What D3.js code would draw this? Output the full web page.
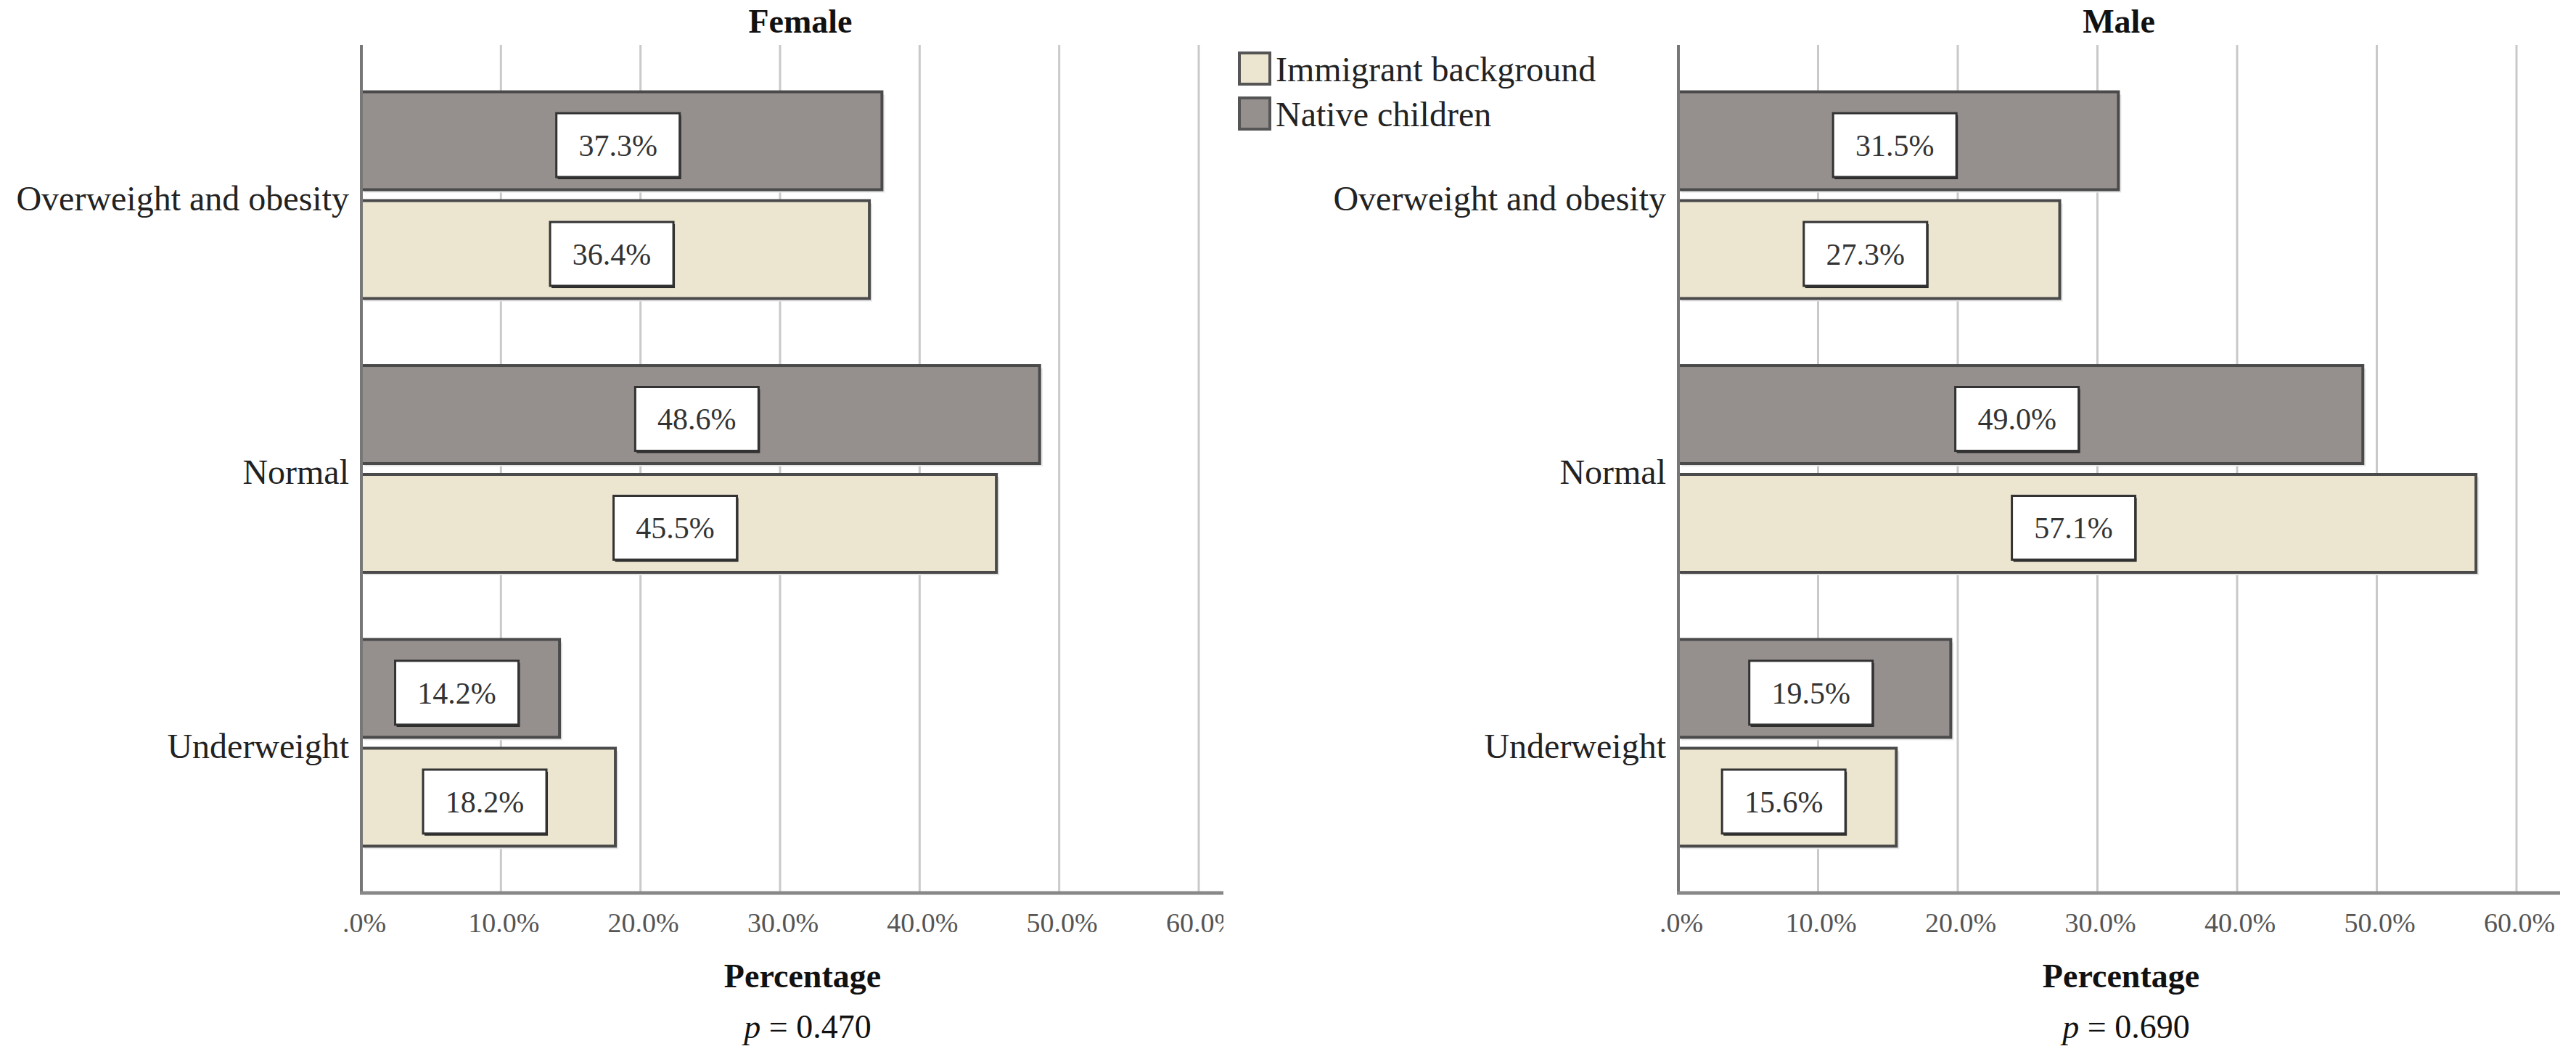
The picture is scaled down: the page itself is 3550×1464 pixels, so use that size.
<!DOCTYPE html>
<html>
<head>
<meta charset="utf-8">
<script src="https://cdn.jsdelivr.net/npm/d3@7"></script>
<style>
body { margin: 0px; background: #fff; }
text { font-family: "Liberation Serif", "Times New Roman", serif; }
</style>
</head>
<body>
<div id="app"></div>
<script>
const categories = ["Overweight and obesity", "Normal", "Underweight"]
const series = ["Native children", "Immigrant background"]
const legendOrder = ["Immigrant background", "Native children"]
const femaleNative = [37.3, 48.6, 14.2]
const femaleImmigrant = [36.4, 45.5, 18.2]
const maleNative = [31.5, 49.0, 19.5]
const maleImmigrant = [27.3, 57.1, 15.6]
const tickValues = [0, 10, 20, 30, 40, 50, 60]
const tickLabels = [".0%", "10.0%", "20.0%", "30.0%", "40.0%", "50.0%", "60.0%"]
const panelTitles = ["Female", "Male"]
const pValues = ["0.470", "0.690"]

const colors = { "Native children": "#958f8e", "Immigrant background": "#ece5d0" }

const W = 3550, H = 1464
const svg = d3.select("#app").append("svg").attr("width", W).attr("height", H)

const plotTop = 62, plotBottom = 1231

const y = d3.scaleBand().domain(categories).range([plotTop, plotBottom]).paddingInner(0.245).paddingOuter(0.171)
const ySub = d3.scaleBand().domain(series).range([0, y.bandwidth()]).paddingInner(0.1)

const panels = [
  { id: "f", title: panelTitles[0], p: pValues[0], native: femaleNative, immigrant: femaleImmigrant, x0: 498, x60: 1652, axisEnd: 1686, center: 1103 },
  { id: "m", title: panelTitles[1], p: pValues[1], native: maleNative, immigrant: maleImmigrant, x0: 2313, x60: 3468, axisEnd: 3528, center: 2920 }
]

panels.forEach(pn => {
  const g = svg.append("g")
  const x = d3.scaleLinear().domain([0, 60]).range([pn.x0, pn.x60])

  // clip at the panel's right edge (the female one is cut by the legend)
  svg.append("clipPath").attr("id", "clip-" + pn.id)
    .append("rect").attr("x", 0).attr("y", 0).attr("width", pn.axisEnd + (pn.id == "m" ? 30 : 0)).attr("height", H)

  // gridlines
  g.append("g").selectAll("line").data(tickValues.slice(1)).join("line")
    .attr("x1", d => x(d)).attr("x2", d => x(d))
    .attr("y1", plotTop).attr("y2", plotBottom)
    .attr("stroke", "#c9c9c9").attr("stroke-width", 3)

  // bars
  const rows = []
  categories.forEach((c, i) => {
    rows.push({ cat: c, s: "Native children", v: pn.native[i] })
    rows.push({ cat: c, s: "Immigrant background", v: pn.immigrant[i] })
  })

  const bars = g.append("g").selectAll("g").data(rows).join("g")
    .attr("transform", d => `translate(0,${y(d.cat) + ySub(d.s)})`)

  bars.append("rect")
    .attr("x", x(0) + 4).attr("y", 4)
    .attr("width", d => x(d.v) - x(0)).attr("height", ySub.bandwidth())
    .attr("fill", "#e6e6e6")
  bars.append("rect")
    .attr("x", x(0)).attr("y", 0)
    .attr("width", d => x(d.v) - x(0)).attr("height", ySub.bandwidth())
    .attr("fill", d => colors[d.s])
    .attr("stroke", "#4a4a4a").attr("stroke-width", 4)

  // value boxes
  const bw = 170, bh = 88
  const box = bars.append("g")
    .attr("transform", d => `translate(${(x(0) + x(d.v)) / 2 - bw / 2 - 5},${ySub.bandwidth() / 2 + 6 - bh / 2})`)
  box.append("rect").attr("x", 2).attr("y", 3).attr("width", bw).attr("height", bh).attr("fill", "#2a2a2a")
  box.append("rect").attr("width", bw).attr("height", bh)
    .attr("fill", "#fff").attr("stroke", "#333").attr("stroke-width", 3)
  box.append("text").attr("x", bw / 2).attr("y", bh / 2).attr("dy", "0.35em")
    .attr("text-anchor", "middle").attr("font-size", 42).attr("fill", "#333")
    .text(d => d.v.toFixed(1) + "%")

  // y axis line
  g.append("line").attr("x1", x(0)).attr("x2", x(0)).attr("y1", plotTop).attr("y2", plotBottom)
    .attr("stroke", "#777").attr("stroke-width", 4)
  // x axis line
  g.append("line").attr("x1", x(0) - 2).attr("x2", pn.axisEnd).attr("y1", plotBottom).attr("y2", plotBottom)
    .attr("stroke", "#888").attr("stroke-width", 5)

  // category labels
  g.append("g").selectAll("text").data(categories).join("text")
    .attr("x", x(0) - 17).attr("y", d => y(d) + y.bandwidth() / 2 + 4).attr("dy", "0.35em")
    .attr("text-anchor", "end").attr("font-size", 48).attr("fill", "#222")
    .text(d => d)

  // tick labels
  g.append("g").attr("clip-path", `url(#clip-${pn.id})`)
    .selectAll("text").data(tickValues).join("text")
    .attr("x", d => x(d) + 4).attr("y", 1285)
    .attr("text-anchor", "middle").attr("font-size", 38).attr("fill", "#555")
    .text((d, i) => tickLabels[i])

  // title
  g.append("text").attr("x", pn.center).attr("y", 45)
    .attr("text-anchor", "middle").attr("font-size", 46).attr("font-weight", "bold").attr("fill", "#111")
    .text(pn.title)

  // axis title
  g.append("text").attr("x", pn.center + 3).attr("y", 1361)
    .attr("text-anchor", "middle").attr("font-size", 46).attr("font-weight", "bold").attr("fill", "#111")
    .text("Percentage")

  const pt = g.append("text").attr("x", pn.center + 10).attr("y", 1431)
    .attr("text-anchor", "middle").attr("font-size", 46).attr("fill", "#111")
  pt.append("tspan").attr("font-style", "italic").text("p")
  pt.append("tspan").text(" = " + pn.p)
})

// legend
const legend = svg.append("g").attr("transform", "translate(1708,73)")
const items = legend.selectAll("g").data(legendOrder).join("g")
  .attr("transform", (d, i) => `translate(0,${i * 62})`)
items.append("rect").attr("width", 42).attr("height", 43)
  .attr("fill", d => colors[d]).attr("stroke", "#555").attr("stroke-width", 4)
items.append("text").attr("x", 50).attr("y", 22).attr("dy", "0.35em")
  .attr("font-size", 48).attr("fill", "#222")
  .text(d => d)
</script>
</body>
</html>
